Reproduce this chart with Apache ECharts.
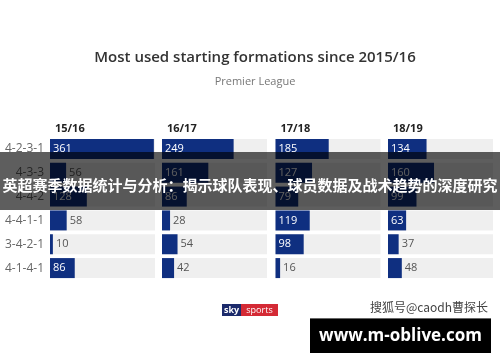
<!DOCTYPE html>
<html><head><meta charset="utf-8">
<script src="https://cdn.jsdelivr.net/npm/echarts@6/dist/echarts.min.js"></script>
<style>html,body{margin:0;padding:0;background:#fff}#c{width:500px;height:362px}</style>
</head><body><div id="c"></div>
<script>
var formations = ['4-2-3-1','4-3-3','4-4-2','4-4-1-1','3-4-2-1','4-1-4-1'];
var seasons = ['15/16','16/17','17/18','18/19'];
var s1516 = [361,56,128,58,10,86];
var s1617 = [249,161,86,28,54,42];
var s1718 = [185,127,79,119,98,16];
var s1819 = [134,160,99,63,37,48];
var seriesValues = [s1516,s1617,s1718,s1819];
var chartTitle = 'Most used starting formations since 2015/16';
var chartSubtitle = 'Premier League';
var overlayText = '英超赛季数据统计与分析：揭示球队表现、球员数据及战术趋势的深度研究';
var sourceText = '搜狐号@caodh曹探长';
var siteText = 'www.m-oblive.com';

var FONT = '"Open Sans", "Noto Sans", sans-serif';
var lefts = [50, 162, 275.5, 388];
var grids = [], xAxes = [], yAxes = [], series = [], titles = [];
titles.push({text: chartTitle, left: 250, top: 45, textAlign: 'center',
  textStyle: {fontFamily: FONT, fontSize: 15, fontWeight: 600, color: '#333'}});
titles.push({text: chartSubtitle, left: 250, top: 71, textAlign: 'center',
  textStyle: {fontFamily: FONT, fontSize: 11, fontWeight: 400, color: '#777'}});
seasons.forEach(function(s, i){
  grids.push({left: lefts[i], top: 137, width: 105, height: 143});
  xAxes.push({type: 'value', gridIndex: i, min: 0, max: 365, show: false});
  yAxes.push({type: 'category', gridIndex: i, data: formations, inverse: true,
    show: i === 0, axisLine: {show: false}, axisTick: {show: false},
    axisLabel: {show: i === 0, fontFamily: FONT, fontSize: 12, color: '#666', margin: 6}});
  titles.push({text: s, left: lefts[i], top: 118,
    textStyle: {fontFamily: FONT, fontSize: 11, fontWeight: 700, color: '#222'}});
  series.push({type: 'bar', xAxisIndex: i, yAxisIndex: i, barWidth: 20,
    showBackground: true, backgroundStyle: {color: '#efefef'},
    itemStyle: {color: '#0f2f80'},
    data: seriesValues[i].map(function(v){
      var inside = v >= 60;
      return {value: v, label: {show: true, position: inside ? 'insideLeft' : 'right',
        distance: 3, color: inside ? '#fff' : '#555', fontFamily: FONT, fontSize: 11}};
    })
  });
});

var chart = echarts.init(document.getElementById('c'), null, {renderer: 'canvas'});
chart.setOption({
  animation: false,
  backgroundColor: '#fff',
  title: titles,
  grid: grids, xAxis: xAxes, yAxis: yAxes, series: series,
  graphic: [
    {type: 'rect', z: 100, shape: {x: 0, y: 152, width: 500, height: 58}, style: {fill: 'rgba(0,0,0,0.63)'}},
    {type: 'text', z: 101, x: 250, y: 185, style: {text: overlayText, fill: '#fff',
      font: 'bold 15px "Noto Sans CJK SC", sans-serif', align: 'center', verticalAlign: 'middle'}},
    {type: 'rect', z: 10, shape: {x: 222, y: 304, width: 19, height: 12}, style: {fill: '#1b2a6b'}},
    {type: 'rect', z: 10, shape: {x: 241, y: 304, width: 37, height: 12}, style: {fill: '#d42a35'}},
    {type: 'text', z: 11, x: 231.5, y: 310, style: {text: 'sky', fill: '#fff', font: 'bold 9px ' + FONT, align: 'center', verticalAlign: 'middle'}},
    {type: 'text', z: 11, x: 259.5, y: 310, style: {text: 'sports', fill: '#fff', font: '9px ' + FONT, align: 'center', verticalAlign: 'middle'}},
    {type: 'text', z: 10, x: 488, y: 307, style: {text: sourceText, fill: '#444', font: '12px "Noto Sans CJK SC", sans-serif', align: 'right', verticalAlign: 'middle'}},
    {type: 'rect', z: 10, shape: {x: 310, y: 318, width: 181, height: 35}, style: {fill: '#000'}},
    {type: 'rect', z: 11, shape: {x: 310, y: 318, width: 181, height: 1}, style: {fill: '#666'}},
    {type: 'text', z: 12, x: 400.5, y: 336, style: {text: siteText, fill: '#fff', font: 'bold 17px ' + FONT, align: 'center', verticalAlign: 'middle'}}
  ]
});
</script></body></html>
